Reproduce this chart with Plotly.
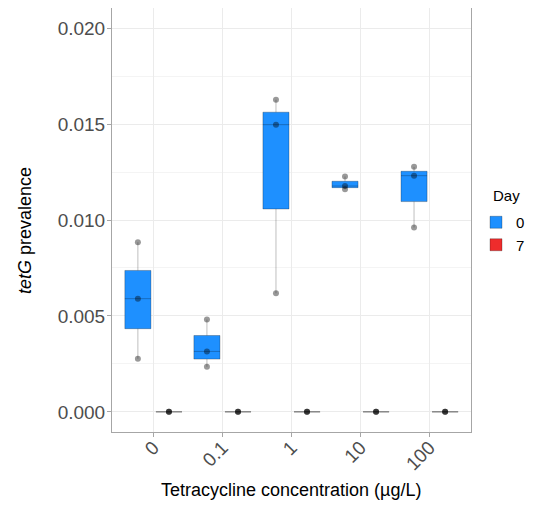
import plotly.graph_objects as go

# ---- data ----
concentrations = ["0", "0.1", "1", "10", "100"]
day0_rep_low = [0.00277, 0.00235, 0.00618, 0.01160, 0.00961]
day0_rep_mid = [0.00590, 0.00315, 0.01497, 0.01177, 0.01231]
day0_rep_high = [0.00884, 0.00481, 0.01627, 0.01227, 0.01277]
day7_rep_low = [0.0, 0.0, 0.0, 0.0, 0.0]
day7_rep_mid = [0.0, 0.0, 0.0, 0.0, 0.0]
day7_rep_high = [0.0, 0.0, 0.0, 0.0, 0.0]
days = ["0", "7"]
day_colors = ["#1E90FF", "#EE2C2C"]
y_ticks = [0.000, 0.005, 0.010, 0.015, 0.020]


def long_form(low, mid, high):
    xs, ys = [], []
    for c, a, b, d in zip(concentrations, low, mid, high):
        for v in (a, b, d):
            xs.append(c)
            ys.append(v)
    return xs, ys


series = [
    long_form(day0_rep_low, day0_rep_mid, day0_rep_high),
    long_form(day7_rep_low, day7_rep_mid, day7_rep_high),
]

FONT = "Liberation Sans, Arial, Helvetica, sans-serif"

fig = go.Figure()
for (xs, ys), day, col in zip(series, days, day_colors):
    fig.add_trace(go.Box(
        x=xs, y=ys, name=day,
        fillcolor=col,
        line=dict(color="rgba(0,0,0,0.25)", width=1),
        marker=dict(color="rgba(0,0,0,0.4)", size=6, line=dict(width=0)),
        boxpoints="all", jitter=0, pointpos=0,
        quartilemethod="inclusive",
        whiskerwidth=0,
        hoverinfo="y",
    ))

# the page body has an 8px margin, so the figure is laid out 8px in from the window
OFF = 8
W, H = 534 - OFF, 512 - OFF
L, R, T, B = 104, 63, 0, 80
pw, ph = W - L - R, H - T - B


def px(xp):
    return (xp - OFF - L) / pw


def py(yp):
    return (H - B - (yp - OFF)) / ph


fig.update_layout(
    width=W, height=H,
    margin=dict(l=L, r=R, t=T, b=B, autoexpand=False),
    paper_bgcolor="white", plot_bgcolor="white",
    boxmode="group", boxgap=0.1, boxgroupgap=0.16,
    font=dict(family=FONT, color="#000000"),
    legend=dict(
        font=dict(size=15, color="#000000"),
        xref="container", yref="container",
        x=(476 - OFF) / W, xanchor="left", y=1 - (206 - OFF) / H, yanchor="top",
        bgcolor="rgba(0,0,0,0)", tracegroupgap=0,
    ),
    xaxis=dict(
        type="category", categoryorder="array", categoryarray=concentrations,
        range=[-0.6, 4.6], automargin=False,
        showgrid=True, gridcolor="#EBEBEB", gridwidth=1,
        showline=True, mirror=True, linecolor="#A6A6A6", linewidth=1,
        ticks="outside", ticklen=4, tickcolor="#A6A6A6",
        tickangle=-45, ticklabelstandoff=-8,
        tickfont=dict(size=19, color="#4D4D4D", family=FONT),
        zeroline=False,
    ),
    yaxis=dict(
        range=[-0.00105, 0.02105], automargin=False,
        tickvals=y_ticks, tickformat=".3f",
        showgrid=True, gridcolor="#EBEBEB", gridwidth=1,
        minor=dict(dtick=0.0025, showgrid=True, gridcolor="#F4F4F4", gridwidth=1),
        showline=True, mirror=True, linecolor="#A6A6A6", linewidth=1,
        ticks="outside", ticklen=4, tickcolor="#A6A6A6", ticklabelstandoff=-2,
        tickfont=dict(size=19, color="#4D4D4D", family=FONT),
        zeroline=False,
    ),
    annotations=[
        dict(text="<i>tetG</i> prevalence", xref="paper", yref="paper",
             x=px(25), y=py(231), xanchor="center", yanchor="middle",
             textangle=-90, showarrow=False, font=dict(size=18, color="#000000", family=FONT)),
        dict(text="Tetracycline concentration (µg/L)", xref="paper", yref="paper",
             x=0.5, y=py(490), xanchor="center", yanchor="middle",
             showarrow=False, font=dict(size=18, color="#000000", family=FONT)),
        dict(text="Day", xref="paper", yref="paper",
             x=px(491), y=py(195), xanchor="left", yanchor="middle",
             showarrow=False, font=dict(size=15, color="#000000", family=FONT)),
    ],
)

fig.write_html("out.html")
